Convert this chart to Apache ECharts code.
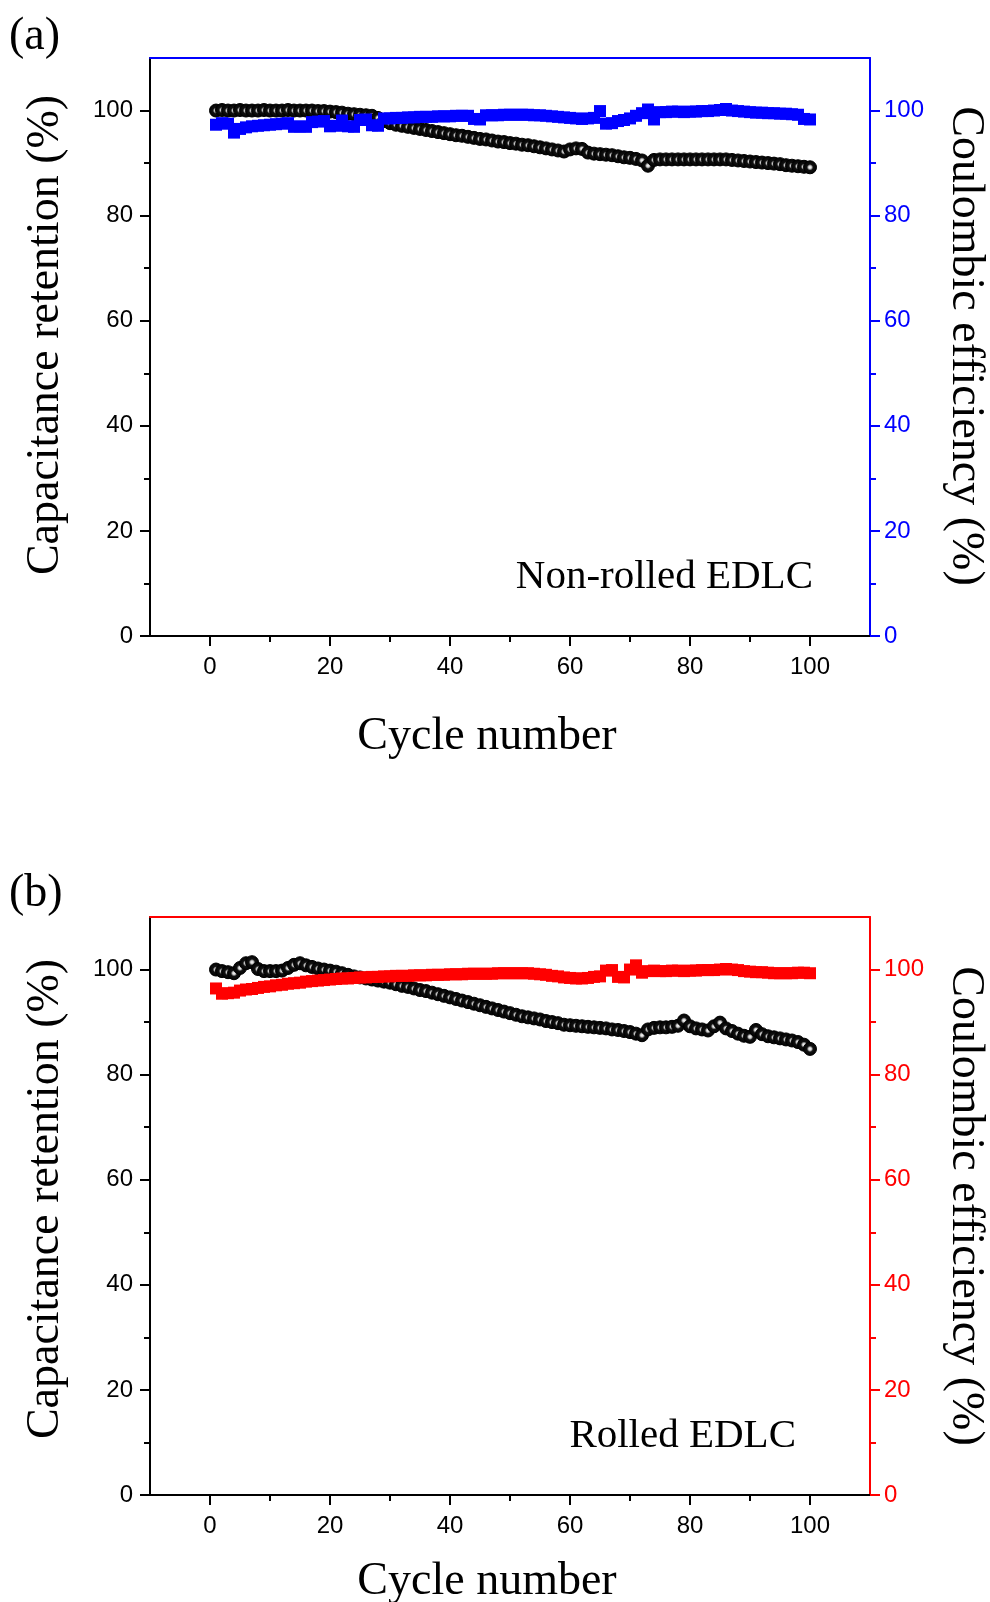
<!DOCTYPE html>
<html>
<head>
<meta charset="utf-8">
<script src="https://cdn.jsdelivr.net/npm/echarts@6.0.0/dist/echarts.min.js"></script>
<style>
  html, body { margin: 0; padding: 0; background: #fff; }
  #chart { width: 990px; height: 1602px; }
</style>
</head>
<body>
<div id="chart"></div>
<script>
// cycle index
const cycles = [1, 2, 3, 4, 5, 6, 7, 8, 9, 10, 11, 12, 13, 14, 15, 16, 17, 18, 19, 20,
  21, 22, 23, 24, 25, 26, 27, 28, 29, 30, 31, 32, 33, 34, 35, 36, 37, 38, 39, 40,
  41, 42, 43, 44, 45, 46, 47, 48, 49, 50, 51, 52, 53, 54, 55, 56, 57, 58, 59, 60,
  61, 62, 63, 64, 65, 66, 67, 68, 69, 70, 71, 72, 73, 74, 75, 76, 77, 78, 79, 80,
  81, 82, 83, 84, 85, 86, 87, 88, 89, 90, 91, 92, 93, 94, 95, 96, 97, 98, 99, 100];

// (a) non-rolled: capacitance retention (%)
const retA = [100.0, 100.1, 100.0, 100.0, 100.1, 100.0, 100.0, 100.0, 100.1, 100.0,
  100.0, 100.0, 100.1, 100.0, 100.0, 100.0, 100.0, 99.9, 99.9, 99.8,
  99.7, 99.6, 99.4, 99.3, 99.2, 99.1, 99.0, 98.6, 98.0, 97.6,
  97.3, 97.1, 96.9, 96.7, 96.5, 96.3, 96.1, 95.9, 95.7, 95.5,
  95.3, 95.2, 95.0, 94.8, 94.6, 94.5, 94.3, 94.1, 94.0, 93.8,
  93.7, 93.5, 93.4, 93.2, 93.0, 92.8, 92.6, 92.4, 92.2, 92.6,
  92.8, 92.7, 92.0, 91.8, 91.7, 91.6, 91.5, 91.3, 91.1, 91.0,
  90.8, 90.5, 89.5, 90.6, 90.7, 90.7, 90.7, 90.7, 90.7, 90.7,
  90.7, 90.7, 90.7, 90.7, 90.7, 90.7, 90.6, 90.5, 90.4, 90.3,
  90.2, 90.1, 90.0, 89.9, 89.8, 89.6, 89.5, 89.4, 89.3, 89.2];

// (a) non-rolled: coulombic efficiency (%)
const ceA = [97.3, 97.6, 97.5, 95.8, 96.5, 96.8, 97.0, 97.1, 97.2, 97.3,
  97.4, 97.5, 97.6, 96.9, 97.0, 96.9, 97.8, 97.9, 98.0, 97.0,
  97.1, 98.1, 97.0, 96.9, 98.2, 98.3, 97.2, 97.1, 98.5, 98.5,
  98.6, 98.6, 98.7, 98.7, 98.8, 98.8, 98.8, 98.9, 98.9, 98.9,
  99.0, 99.0, 99.0, 98.4, 98.3, 99.1, 99.1, 99.1, 99.2, 99.2,
  99.2, 99.2, 99.2, 99.1, 99.1, 99.0, 98.9, 98.8, 98.7, 98.6,
  98.5, 98.4, 98.5, 98.6, 99.9, 97.5, 97.6, 98.0, 98.2, 98.5,
  99.0, 99.5, 100.2, 98.3, 99.7, 99.7, 99.8, 99.8, 99.7, 99.8,
  99.8, 99.9, 99.9, 100.0, 100.1, 100.3, 100.0, 99.9, 99.8, 99.7,
  99.6, 99.6, 99.5, 99.5, 99.4, 99.4, 99.3, 99.2, 98.4, 98.3];

// (b) rolled: capacitance retention (%)
const retB = [100.0, 99.7, 99.5, 99.3, 100.3, 101.2, 101.4, 100.1, 99.7, 99.7,
  99.7, 99.8, 100.3, 100.9, 101.2, 100.8, 100.5, 100.2, 100.0, 99.8,
  99.6, 99.3, 99.0, 98.7, 98.5, 98.3, 98.1, 97.9, 97.7, 97.5,
  97.2, 96.9, 96.7, 96.4, 96.1, 95.9, 95.6, 95.3, 95.0, 94.7,
  94.4, 94.1, 93.8, 93.5, 93.2, 92.9, 92.6, 92.3, 92.0, 91.7,
  91.4, 91.1, 90.9, 90.7, 90.5, 90.2, 90.0, 89.8, 89.5, 89.4,
  89.3, 89.2, 89.1, 89.0, 88.9, 88.8, 88.6, 88.5, 88.3, 88.1,
  87.8, 87.5, 88.6, 88.9, 89.0, 89.0, 89.1, 89.3, 90.3, 89.2,
  88.8, 88.6, 88.4, 89.2, 89.9, 88.8, 88.3, 87.8, 87.4, 87.2,
  88.5, 87.7, 87.3, 87.1, 86.9, 86.7, 86.5, 86.2, 85.7, 84.9];

// (b) rolled: coulombic efficiency (%)
const ceB = [96.4, 95.4, 95.5, 95.6, 96.0, 96.2, 96.3, 96.5, 96.7, 96.8,
  97.0, 97.1, 97.3, 97.4, 97.5, 97.7, 97.8, 97.9, 98.0, 98.1,
  98.2, 98.3, 98.3, 98.4, 98.5, 98.5, 98.6, 98.6, 98.7, 98.7,
  98.8, 98.8, 98.8, 98.9, 98.9, 98.9, 99.0, 99.0, 99.0, 99.1,
  99.1, 99.1, 99.2, 99.2, 99.2, 99.2, 99.2, 99.3, 99.3, 99.3,
  99.3, 99.3, 99.3, 99.2, 99.1, 99.0, 98.8, 98.7, 98.5, 98.4,
  98.3, 98.3, 98.4, 98.6, 98.7, 99.8, 99.9, 98.6, 98.5, 100.0,
  100.8, 99.4, 99.7, 99.8, 99.7, 99.7, 99.8, 99.8, 99.7, 99.8,
  99.8, 99.9, 99.9, 99.9, 100.0, 100.1, 100.0, 99.9, 99.7, 99.6,
  99.5, 99.5, 99.4, 99.3, 99.3, 99.3, 99.3, 99.4, 99.4, 99.3];

// ticks
const xMajor = [0, 20, 40, 60, 80, 100];
const xMinor = [10, 30, 50, 70, 90];
const yMajor = [0, 20, 40, 60, 80, 100];
const yMinor = [10, 30, 50, 70, 90];

const panelNames = ['Non-rolled EDLC', 'Rolled EDLC'];
const panelTags = ['(a)', '(b)'];
const yLeftName = 'Capacitance retention (%)';
const yRightName = 'Coulombic efficiency (%)';
const xName = 'Cycle number';

const serif = "'Liberation Serif', 'Times New Roman', serif";
const sans = "'Liberation Sans', Arial, sans-serif";

const panels = [
  { top: 58, color: '#0000ff', ret: retA, ce: ceA },
  { top: 917, color: '#ff0000', ret: retB, ce: ceB },
];

const grid = [];
const xAxis = [];
const yAxis = [];
const series = [];

// black ball with a light centre, like the Origin sphere symbol
const sphere = {
  type: 'radial', x: 0.5, y: 0.5, r: 0.5,
  colorStops: [
    { offset: 0, color: '#ffffff' },
    { offset: 0.22, color: '#c8c8c8' },
    { offset: 0.45, color: '#111111' },
    { offset: 1, color: '#000000' },
  ],
};

panels.forEach((p, g) => {
  grid.push({ left: 150, top: p.top, width: 720, height: 578 });

  // bottom axis (major), bottom axis (minor ticks), top border
  xAxis.push({
    gridIndex: g, type: 'value', min: -10, max: 110, position: 'bottom',
    axisLine: { show: true, onZero: false, lineStyle: { color: '#000', width: 2 } },
    axisTick: { show: true, inside: false, length: 10, customValues: xMajor, lineStyle: { color: '#000', width: 2 } },
    axisLabel: { show: true, customValues: xMajor, margin: 19, fontSize: 24, fontFamily: sans, color: '#000' },
    splitLine: { show: false },
  });
  xAxis.push({
    gridIndex: g, type: 'value', min: -10, max: 110, position: 'bottom',
    axisLine: { show: false, onZero: false },
    axisTick: { show: true, length: 6, customValues: xMinor, lineStyle: { color: '#000', width: 2 } },
    axisLabel: { show: false },
    splitLine: { show: false },
  });
  xAxis.push({
    gridIndex: g, type: 'value', min: -10, max: 110, position: 'top',
    axisLine: { show: true, onZero: false, lineStyle: { color: p.color, width: 2 } },
    axisTick: { show: false },
    axisLabel: { show: false },
    splitLine: { show: false },
  });

  // left axis (major + minor), right axis (major + minor)
  yAxis.push({
    gridIndex: g, type: 'value', min: 0, max: 110, position: 'left',
    axisLine: { show: true, onZero: false, lineStyle: { color: '#000', width: 2 } },
    axisTick: { show: true, length: 10, customValues: yMajor, lineStyle: { color: '#000', width: 2 } },
    axisLabel: { show: true, customValues: yMajor, margin: 17, fontSize: 24, fontFamily: sans, color: '#000' },
    splitLine: { show: false },
  });
  yAxis.push({
    gridIndex: g, type: 'value', min: 0, max: 110, position: 'left',
    axisLine: { show: false, onZero: false },
    axisTick: { show: true, length: 6, customValues: yMinor, lineStyle: { color: '#000', width: 2 } },
    axisLabel: { show: false },
    splitLine: { show: false },
  });
  yAxis.push({
    gridIndex: g, type: 'value', min: 0, max: 110, position: 'right',
    axisLine: { show: true, onZero: false, lineStyle: { color: p.color, width: 2 } },
    axisTick: { show: true, length: 10, customValues: yMajor, lineStyle: { color: p.color, width: 2 } },
    axisLabel: { show: true, customValues: yMajor, margin: 14, fontSize: 24, fontFamily: sans, color: p.color },
    splitLine: { show: false },
  });
  yAxis.push({
    gridIndex: g, type: 'value', min: 0, max: 110, position: 'right',
    axisLine: { show: false, onZero: false },
    axisTick: { show: true, length: 6, customValues: yMinor, lineStyle: { color: p.color, width: 2 } },
    axisLabel: { show: false },
    splitLine: { show: false },
  });

  series.push({
    name: yLeftName, type: 'scatter', xAxisIndex: g * 3, yAxisIndex: g * 4,
    symbol: 'circle', symbolSize: 13,
    itemStyle: { color: sphere, borderColor: '#000', borderWidth: 1, opacity: 1 },
    data: p.ret.map((v, i) => [cycles[i], v]),
    z: 2,
  });
  series.push({
    name: yRightName, type: 'scatter', xAxisIndex: g * 3, yAxisIndex: g * 4 + 2,
    symbol: 'rect', symbolSize: 12,
    itemStyle: { color: p.color, opacity: 1 },
    data: p.ce.map((v, i) => [cycles[i], v]),
    z: 3,
  });
});

function label(text, x, y, size, align, rotation) {
  return {
    type: 'text', x: x, y: y, rotation: rotation || 0,
    style: {
      text: text, fontSize: size, fontFamily: serif, fill: '#000',
      textAlign: align, align: align, textVerticalAlign: 'middle', verticalAlign: 'middle',
    },
  };
}

const graphic = [
  label(panelTags[0], 9, 37, 46, 'left'),
  label(panelTags[1], 9, 894, 46, 'left'),
  label(yLeftName, 46, 335, 46, 'center', Math.PI / 2),
  label(yLeftName, 46, 1199, 46, 'center', Math.PI / 2),
  label(yRightName, 965, 346, 46, 'center', -Math.PI / 2),
  label(yRightName, 965, 1206, 46, 'center', -Math.PI / 2),
  label(xName, 487, 737, 46, 'center'),
  label(xName, 487, 1582, 46, 'center'),
  label(panelNames[0], 813, 577, 41, 'right'),
  label(panelNames[1], 796, 1436, 41, 'right'),
];

const chart = echarts.init(document.getElementById('chart'), null, { renderer: 'canvas' });
chart.setOption({
  animation: false,
  backgroundColor: '#fff',
  grid: grid,
  xAxis: xAxis,
  yAxis: yAxis,
  series: series,
  graphic: graphic,
});
</script>
</body>
</html>
